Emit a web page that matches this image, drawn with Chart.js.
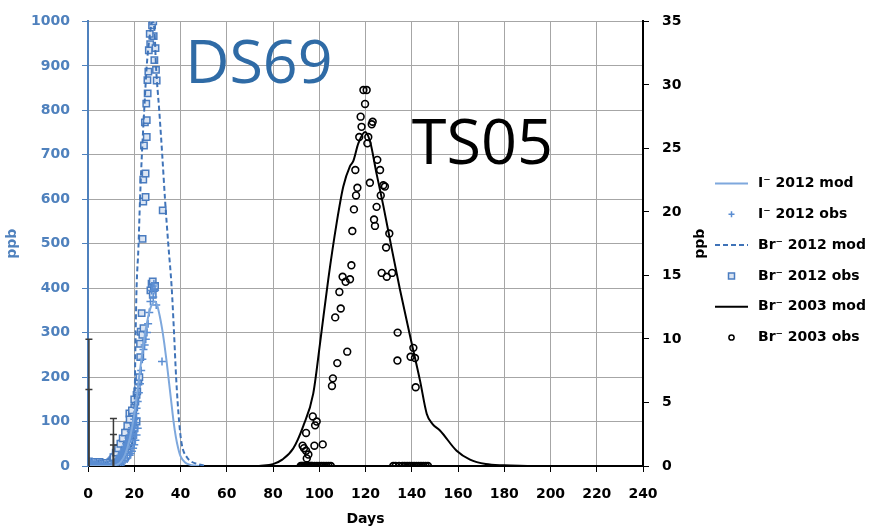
<!DOCTYPE html>
<html>
<head>
<meta charset="utf-8">
<script src="https://cdn.jsdelivr.net/npm/chart.js@4"></script>
<style>
  html, body { margin: 0; padding: 0; background: #ffffff; }
  #wrap { width: 869px; height: 529px; }
</style>
</head>
<body>
<div id="wrap"><canvas id="c" width="869" height="529"></canvas></div>
<script>
// ---- Tracer breakthrough data ----
// Iodide 2012, model (ppb, left axis)
const iModDays = [0, 10, 12, 14, 16, 18, 20, 22, 24, 26, 27, 28, 29, 30, 31, 32, 33, 34, 35, 36, 37, 38, 39, 40, 42, 44, 46, 48];
const iModPpb  = [0, 0, 2, 8, 25, 60, 115, 195, 275, 335, 355, 366, 370, 360, 338, 310, 275, 235, 190, 145, 100, 65, 40, 22, 8, 3, 1, 0];

// Iodide 2012, observed (ppb, left axis)
const iObsDays = [0, 0.3, 0.6, 1, 1.5, 2, 2.5, 3, 3.5, 4, 5, 6, 7, 8, 9, 10,
  10.5, 11, 11.5, 12, 12.5, 13, 13.5, 14, 14.5, 15, 15.5, 16, 16.5, 17, 17.5, 18, 18.5, 19, 19.5, 20,
  20.5, 21, 21.5, 22, 22.5, 23, 23.5, 24, 24.5, 25, 25.5, 26, 26.5, 27, 27.5, 28, 28.2, 28.5, 29, 29.5, 32,
  12, 13, 14, 15, 16, 17, 18, 18.5, 19, 19.5, 20, 20.5, 21, 21.5,
  11, 11.5, 12, 12.5, 13, 13.5, 14, 14.5, 15, 15.5, 16, 16.5, 17, 17.5, 18, 18.5, 19, 19.5, 20, 20.5, 21];
const iObsPpb  = [6, 12, 4, 9, 5, 8, 4, 7, 3, 5, 6, 4, 3, 5, 3, 2,
  4, 5, 7, 10, 13, 16, 20, 24, 28, 33, 38, 44, 50, 56, 63, 70, 78, 86, 95, 105,
  118, 130, 145, 165, 185, 215, 240, 262, 272, 285, 300, 320, 345, 370, 395, 405, 380, 410, 395, 362, 235,
  2, 4, 6, 9, 13, 18, 24, 28, 33, 40, 48, 58, 70, 85,
  3, 5, 8, 11, 14, 17, 21, 25, 29, 33, 38, 43, 48, 54, 60, 66, 73, 80, 88, 97, 108];

// Bromide 2012, model (ppb, left axis)
const brModDays = [0, 14, 16, 17, 18, 19, 20, 20.6, 21, 21.8, 22.5, 23.3, 24.3, 25.4, 26.5, 27.5, 28.2, 28.8, 29.4, 30.8, 32.1, 33.3, 34.7, 36.2, 37.2, 38.1, 39.4, 40.5, 42.7, 45, 47, 51];
const brModPpb  = [0, 0, 4, 10, 22, 50, 100, 300, 400, 490, 600, 700, 800, 900, 960, 995, 1000, 975, 900, 800, 700, 600, 500, 400, 300, 200, 100, 50, 20, 9, 5, 0];

// Bromide 2012, observed (ppb, left axis)
const brObsDays = [0, 0.4, 0.8, 1.2, 1.8, 2.4, 3, 3.6, 4.2, 5, 6, 7, 8, 9,
  9.5, 10, 10.5, 11, 11.5, 12, 12.5, 13, 13.5, 14, 14.5, 15, 15.5, 16, 16.5, 17, 17.5, 17.9, 18, 18.5, 19, 19.5, 20,
  20.5, 21, 21.3, 21.8, 22.2, 22.5, 22.6, 22.8, 23.2, 23.5, 24,
  23.6, 23.9, 24.9, 23.9, 24.9, 24.2, 25.4, 24.6, 25.4, 25.2, 25.8, 25.7, 26.1, 29.7, 29.4, 28.7, 26.3, 26.9, 29.2, 28.4, 26.7, 27.7, 28.2,
  27, 27.5, 28, 28.5, 29, 28, 32.3,
  14, 15, 16, 17, 18, 19, 20, 21,
  11, 12, 13, 14, 15, 16, 17, 18, 19, 20,
  0.2, 1, 2, 3, 4, 5, 6, 7, 8, 9, 10];
const brObsPpb  = [5, 10, 7, 3, 6, 4, 8, 5, 3, 6, 4, 3, 4, 6,
  8, 10, 13, 16, 19, 23, 27, 31, 36, 41, 46, 52, 58, 64, 70, 77, 85, 118, 92, 100, 110, 120, 132,
  145, 160, 168, 190, 200, 275, 245, 302, 344, 295, 310,
  511, 595, 605, 644, 658, 721, 740, 773, 778, 815, 838, 868, 887, 867, 891, 913, 935, 949, 940, 967, 972, 991, 1000,
  395, 410, 415, 400, 405, 385, 575,
  20, 28, 35, 45, 55, 68, 85, 100,
  20, 30, 40, 50, 62, 75, 90, 105, 125, 150,
  2, 9, 2, 9, 2, 9, 6, 5, 7, 2, 3];

// Bromide 2003, model (ppb, right axis)
const br03ModDays = [74, 80, 84, 88.8, 93, 97.4, 100.3, 103.9, 107.5, 110.4, 113.3, 114.7, 116.9, 119.8, 121.9, 124.8, 127.7, 130.6, 134.9, 139.2, 143.6, 146.5, 149, 152.2, 159.4, 165.2, 172, 180, 190];
const br03ModPpb  = [0, 0.15, 0.5, 1.4, 3.1, 5.7, 9.6, 14.7, 19.1, 22.0, 23.6, 24.0, 25.4, 26.3, 25.6, 23.0, 20.5, 17.8, 13.9, 10.3, 6.7, 4.1, 3.3, 2.8, 1.2, 0.5, 0.15, 0.05, 0];

// Bromide 2003, observed (ppb, right axis)
const br03ObsDays = [119.1, 120.5, 119.8, 117.9, 118.3, 123.1, 122.7, 117.3, 121.2, 120.8, 125.1, 126.3, 115.6, 121.9, 127.7, 128.4,
  116.5, 115.9, 126.6, 115.0, 124.8, 123.7, 124.1, 114.3, 130.3, 128.9, 113.9, 110.1, 113.3, 111.4, 127.0, 129.2, 131.5,
  108.7, 109.3, 106.9, 112.1, 107.8, 105.9, 105.5, 133.9, 133.8, 140.7, 139.5, 141.4, 141.7,
  97.2, 98.9, 98.2, 94.3, 101.5, 97.9, 92.8, 93.4, 94.3, 95.3, 94.6,
  92, 92.5, 93, 93.5, 94, 94.5, 95, 95.5, 96, 96.5, 97, 98, 99, 100, 101, 102, 103, 104, 105,
  132, 133, 134.5, 136, 137, 138, 139, 140, 141, 142, 143, 144, 145, 146, 147];
const br03ObsPpb  = [29.6, 29.6, 28.5, 27.5, 26.7, 27.1, 26.9, 25.9, 25.9, 25.4, 24.1, 23.3, 23.3, 22.3, 22.1, 22.0,
  21.9, 21.3, 21.3, 20.2, 20.4, 19.4, 18.9, 18.5, 18.3, 17.2, 15.8, 14.9, 14.7, 14.5, 15.2, 14.9, 15.2,
  13.7, 12.4, 11.7, 9.0, 8.1, 6.9, 6.3, 10.5, 8.3, 9.3, 8.6, 8.5, 6.2,
  3.9, 3.5, 3.2, 2.6, 1.7, 1.6, 1.6, 1.4, 1.2, 0.9, 0.6,
  0, 0, 0, 0, 0, 0, 0, 0, 0, 0, 0, 0, 0, 0, 0, 0, 0, 0, 0,
  0, 0, 0, 0, 0, 0, 0, 0, 0, 0, 0, 0, 0, 0, 0];

// Error bars on early iodide samples (day, upper value in ppb)
const errBarDays = [0.4, 0.4, 11, 11, 11];
const errBarTops = [285, 172, 107, 71, 47];

// Site labels (text, day, ppb on left axis at text baseline)
const siteLabels = ['DS69', 'TS05'];
const siteLabelDays = [42, 140];
const siteLabelPpb = [862, 680];

// Axis ranges / tick steps
const dayTicks = { min: 0, max: 240, step: 20 };
const ppbTicks = { min: 0, max: 1000, step: 100 };
const ppb03Ticks = { min: 0, max: 35, step: 5 };

const pts = (xs, ys) => xs.map((x, i) => ({ x: x, y: ys[i] }));

const BLUE = '#4f81bd';
const GRID = '#a6a6a6';
const FONT = 'DejaVu Sans';

Chart.defaults.font.family = FONT;

// Vertical error bars, drawn through the chart's scales
const errorBars = {
  id: 'errorBars',
  afterDatasetsDraw(chart) {
    const { ctx, scales } = chart;
    ctx.save();
    ctx.strokeStyle = '#3a3a3a';
    ctx.lineWidth = 1.5;
    errBarDays.forEach((d, i) => {
      const x = scales.x.getPixelForValue(d);
      const y0 = scales.y.getPixelForValue(0);
      const y1 = scales.y.getPixelForValue(errBarTops[i]);
      ctx.beginPath();
      ctx.moveTo(x, y0); ctx.lineTo(x, y1);
      ctx.moveTo(x - 3.5, y1); ctx.lineTo(x + 3.5, y1);
      ctx.stroke();
    });
    ctx.restore();
  }
};

// Large site names inside the plot
const siteNames = {
  id: 'siteNames',
  afterDatasetsDraw(chart) {
    const { ctx, scales } = chart;
    const colors = ['#2f6ba6', '#000000'];
    const sizes = [61, 63];
    ctx.save();
    ctx.textBaseline = 'alphabetic';
    ctx.textAlign = 'left';
    siteLabels.forEach((t, i) => {
      ctx.font = '400 ' + sizes[i] + 'px "Open Sans"';
      ctx.fillStyle = colors[i];
      ctx.fillText(t, scales.x.getPixelForValue(siteLabelDays[i]), scales.y.getPixelForValue(siteLabelPpb[i]));
    });
    ctx.restore();
  }
};

// Right axis title (reads bottom-to-top) and series key
const sideKey = {
  id: 'sideKey',
  afterDraw(chart) {
    const { ctx, chartArea } = chart;
    ctx.save();
    ctx.font = 'bold 14px "' + FONT + '"';
    ctx.fillStyle = '#000';
    ctx.textAlign = 'center';
    ctx.textBaseline = 'middle';
    ctx.translate(700, (chartArea.top + chartArea.bottom) / 2);
    ctx.rotate(-Math.PI / 2);
    ctx.fillText('ppb', 0, 0);
    ctx.restore();

    const top = 183.5, step = 30.8, x0 = 715, x1 = 748, tx = 758;
    ctx.save();
    chart.data.datasets.forEach((ds, i) => {
      const y = top + i * step;
      const cx = (x0 + x1) / 2;
      ctx.save();
      if (ds.showLine) {
        ctx.strokeStyle = ds.borderColor;
        ctx.lineWidth = ds.borderWidth;
        ctx.setLineDash(ds.borderDash || []);
        ctx.beginPath();
        ctx.moveTo(x0, y); ctx.lineTo(x1, y);
        ctx.stroke();
      } else {
        ctx.strokeStyle = ds.borderColor;
        ctx.lineWidth = 1.5;
        ctx.beginPath();
        if (ds.pointStyle === 'cross') {
          ctx.moveTo(cx - 3, y); ctx.lineTo(cx + 3, y);
          ctx.moveTo(cx, y - 3); ctx.lineTo(cx, y + 3);
          ctx.stroke();
        } else if (ds.pointStyle === 'rect') {
          ctx.fillStyle = ds.backgroundColor;
          ctx.rect(cx - 3, y - 3, 6, 6);
          ctx.fill(); ctx.stroke();
        } else {
          ctx.arc(cx, y, 2.6, 0, Math.PI * 2);
          ctx.stroke();
        }
      }
      ctx.restore();
      ctx.font = 'bold 14px "' + FONT + '"';
      ctx.fillStyle = '#000';
      ctx.textAlign = 'left';
      ctx.textBaseline = 'middle';
      ctx.fillText(ds.label, tx, y);
    });
    ctx.restore();
  }
};

const tickFont = { family: FONT, size: 14, weight: 'bold' };
const plainNumber = (v) => String(v);

new Chart(document.getElementById('c'), {
  type: 'scatter',
  data: {
    datasets: [
      { label: 'I\u207B 2012 mod', data: pts(iModDays, iModPpb), yAxisID: 'y', showLine: true,
        borderColor: '#7ea8dd', borderWidth: 2, pointRadius: 0, cubicInterpolationMode: 'monotone' },
      { label: 'I\u207B 2012 obs', data: pts(iObsDays, iObsPpb), yAxisID: 'y', showLine: false,
        pointStyle: 'cross', pointRadius: 4, borderColor: '#5a8dd2', pointBorderColor: '#5a8dd2', pointBorderWidth: 1.5 },
      { label: 'Br\u207B 2012 mod', data: pts(brModDays, brModPpb), yAxisID: 'y', showLine: true,
        borderColor: '#3f73b8', borderWidth: 2, borderDash: [5, 3], pointRadius: 0, cubicInterpolationMode: 'monotone' },
      { label: 'Br\u207B 2012 obs', data: pts(brObsDays, brObsPpb), yAxisID: 'y', showLine: false,
        pointStyle: 'rect', pointRadius: 4.5, borderColor: '#4a7cc0', backgroundColor: '#dbe5f3',
        pointBorderColor: '#4a7cc0', pointBackgroundColor: '#dbe5f3', pointBorderWidth: 1.5 },
      { label: 'Br\u207B 2003 mod', data: pts(br03ModDays, br03ModPpb), yAxisID: 'y2', showLine: true,
        borderColor: '#000000', borderWidth: 2, pointRadius: 0, cubicInterpolationMode: 'monotone' },
      { label: 'Br\u207B 2003 obs', data: pts(br03ObsDays, br03ObsPpb), yAxisID: 'y2', showLine: false,
        pointStyle: 'circle', pointRadius: 3.4, borderColor: '#000000', backgroundColor: 'rgba(0,0,0,0)',
        pointBorderColor: '#000000', pointBackgroundColor: 'rgba(0,0,0,0)', pointBorderWidth: 1.6 }
    ]
  },
  options: {
    responsive: false,
    animation: false,
    devicePixelRatio: 1,
    layout: { padding: { left: 0, right: 156, top: 16, bottom: 0 } },
    plugins: { legend: { display: false }, tooltip: { enabled: false } },
    scales: {
      x: {
        type: 'linear', min: dayTicks.min, max: dayTicks.max,
        ticks: { stepSize: dayTicks.step, color: '#000', font: tickFont, padding: 14, maxRotation: 0, callback: plainNumber },
        grid: { color: GRID, tickColor: '#000', tickLength: 6, lineWidth: 1 },
        border: { color: '#000', width: 2 },
        title: { display: true, text: 'Days', color: '#000', font: tickFont, padding: { top: 0, bottom: 1 } },
        afterFit(s) { s.height = 63; }
      },
      y: {
        position: 'left', min: ppbTicks.min, max: ppbTicks.max,
        ticks: { stepSize: ppbTicks.step, color: BLUE, font: tickFont, padding: 12, callback: plainNumber },
        grid: { color: GRID, tickColor: BLUE, tickLength: 6, lineWidth: 1 },
        border: { color: BLUE, width: 2 },
        title: { display: true, text: 'ppb', color: BLUE, font: tickFont, padding: { top: 4, bottom: 0 } },
        afterFit(s) { s.width = 88; }
      },
      y2: {
        position: 'right', min: ppb03Ticks.min, max: ppb03Ticks.max,
        ticks: { stepSize: ppb03Ticks.step, color: '#000', font: tickFont, padding: 13, callback: plainNumber },
        grid: { drawOnChartArea: false, tickColor: '#000', tickLength: 6 },
        border: { color: '#000', width: 2 },
        afterFit(s) { s.width = 70; }
      }
    }
  },
  plugins: [errorBars, siteNames, sideKey]
});
</script>
</body>
</html>
